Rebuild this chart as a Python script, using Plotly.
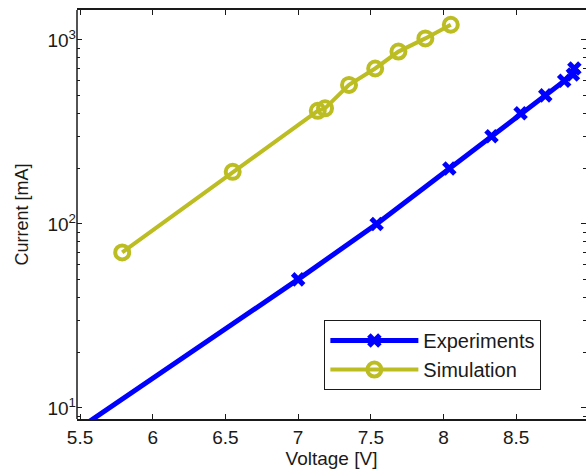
import plotly.graph_objects as go

# Data
exp_v = [5.5, 7.0, 7.54, 8.04, 8.33, 8.53, 8.70, 8.83, 8.89, 8.90]
exp_i = [7.8, 50, 100, 200, 300, 400, 500, 600, 650, 700]

sim_v = [5.79, 6.55, 7.135, 7.185, 7.35, 7.53, 7.69, 7.875, 8.05]
sim_i = [70, 192, 412, 425, 570, 700, 865, 1020, 1210]

x_ticks = [5.5, 6, 6.5, 7, 7.5, 8, 8.5]
x_labels = ["5.5", "6", "6.5", "7", "7.5", "8", "8.5"]
y_major = [10, 100, 1000]
y_labels = ["10<sup>1</sup>", "10<sup>2</sup>", "10<sup>3</sup>"]
y_minor = [m * d for d in [1, 10, 100, 1000] for m in range(2, 10)]

blue = "#0000ff"
olive = "#bcbd22"
font = "Liberation Sans, Arial, sans-serif"
ink = "#1a1a1a"

fig = go.Figure()
fig.add_trace(go.Scatter(
    x=exp_v, y=exp_i, mode="lines+markers", name="Experiments",
    line=dict(color=blue, width=5),
    marker=dict(symbol="x-thin", size=11, color=blue, line=dict(color=blue, width=5)),
))
fig.add_trace(go.Scatter(
    x=sim_v, y=sim_i, mode="lines+markers", name="Simulation",
    line=dict(color=olive, width=4),
    marker=dict(symbol="circle-open", size=14, color=olive, line=dict(color=olive, width=4)),
))

fig.update_layout(
    width=586, height=475,
    margin=dict(l=77, r=0, t=10, b=56),
    paper_bgcolor="white", plot_bgcolor="white",
    font=dict(family=font, size=19, color=ink),
    showlegend=True,
    legend=dict(
        x=0.486, y=0.242, xanchor="left", yanchor="top",
        bordercolor=ink, borderwidth=1, bgcolor="white",
        font=dict(size=20, family=font, color=ink),
        tracegroupgap=0, itemwidth=88,
    ),
    shapes=[dict(type="line", xref="paper", yref="paper", x0=0, x1=0, y0=0, y1=1,
                 line=dict(color=ink, width=1.5))],
)
fig.update_xaxes(
    range=[5.479, 8.98], tickmode="array", tickvals=x_ticks, ticktext=x_labels,
    ticks="inside", ticklen=5, tickcolor=ink, mirror="ticks",
    showline=True, linecolor=ink, linewidth=1.5, showgrid=False, zeroline=False,
    title=dict(text="Voltage [V]", standoff=2, font=dict(size=19)),
    tickfont=dict(size=19),
)
fig.update_yaxes(
    type="log", range=[0.94, 3.163], tickmode="array", tickvals=y_major, ticktext=y_labels,
    ticks="inside", ticklen=5, tickcolor=ink, mirror="ticks",
    showline=False, showgrid=False, zeroline=False,
    minor=dict(tickmode="array", tickvals=y_minor, ticks="inside", ticklen=3, tickcolor=ink, showgrid=False),
    title=dict(text="Current [mA]", standoff=14, font=dict(size=18)),
    tickfont=dict(size=19),
)

fig.write_html("out.html", config={"displayModeBar": False},
               post_script="document.body.style.margin='0';document.body.style.overflow='hidden';")
